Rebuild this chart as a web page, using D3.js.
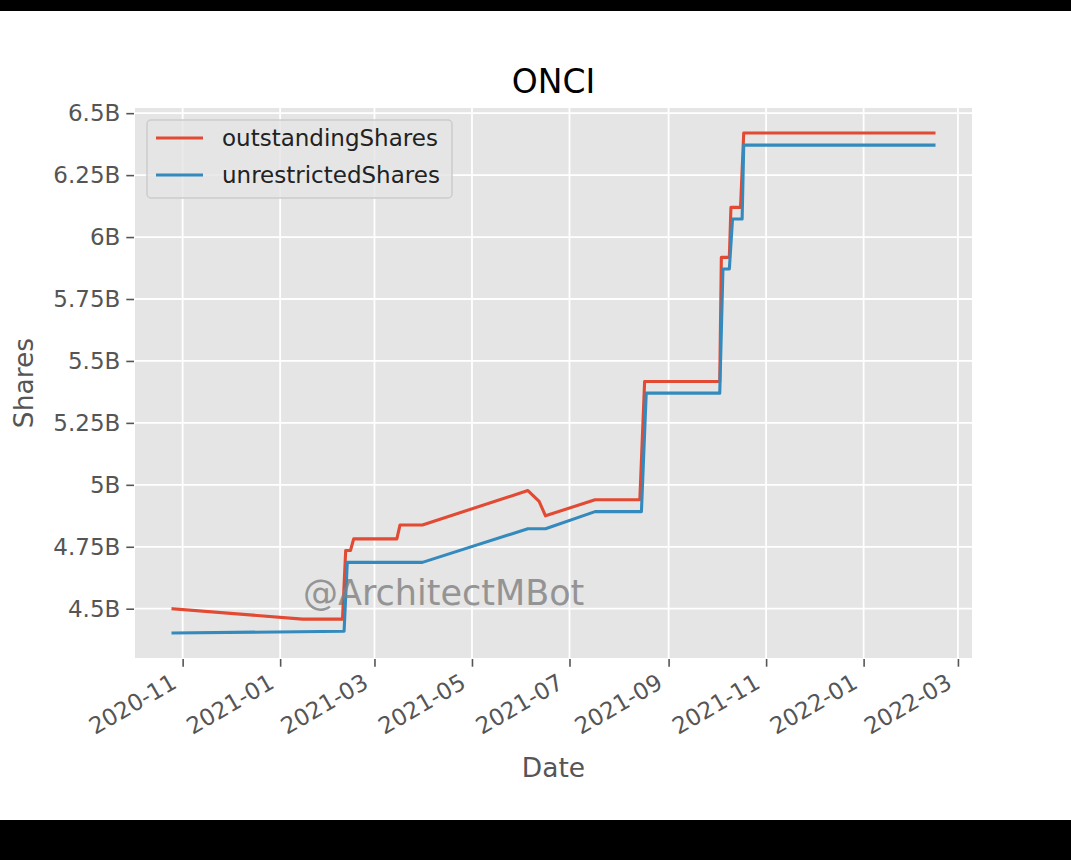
<!DOCTYPE html>
<html><head><meta charset="utf-8">
<script src="https://cdn.jsdelivr.net/npm/d3@7"></script>
<style>
body{margin:0;background:#fff}
svg{display:block}
text{font-family:"DejaVu Sans",sans-serif}
</style>
</head><body>
<svg id="c" width="1071" height="860"></svg>
<script>
const chartTitle = "ONCI";
const xLabel = "Date";
const yLabel = "Shares";
const watermark = "@ArchitectMBot";
const seriesNames = ["outstandingShares", "unrestrictedShares"];
const seriesColors = ["#E24A33", "#348ABD"];

// outstandingShares (billions)
const outDates = ["2020-10-26","2021-01-15","2021-02-09","2021-02-11","2021-02-14","2021-02-16",
  "2021-03-15","2021-03-17","2021-03-31","2021-06-05","2021-06-12","2021-06-16","2021-07-17",
  "2021-08-14","2021-08-17","2021-10-03","2021-10-04","2021-10-09","2021-10-10","2021-10-16",
  "2021-10-18","2022-02-14"];
const outValues = [4.500,4.458,4.458,4.735,4.735,4.782,
  4.782,4.838,4.838,4.977,4.933,4.875,4.940,
  4.940,5.417,5.417,5.918,5.918,6.120,6.120,
  6.420,6.420];

// unrestrictedShares (billions)
const unrDates = ["2020-10-26","2021-02-10","2021-02-12","2021-03-31","2021-06-05","2021-06-16",
  "2021-07-17","2021-08-15","2021-08-18","2021-10-03","2021-10-05","2021-10-09","2021-10-11",
  "2021-10-17","2021-10-18","2022-02-14"];
const unrValues = [4.402,4.409,4.687,4.687,4.823,4.823,
  4.892,4.892,5.370,5.370,5.871,5.871,6.073,
  6.073,6.371,6.371];

const xTickDates = ["2020-11-01","2021-01-01","2021-03-01","2021-05-01","2021-07-01",
  "2021-09-01","2021-11-01","2022-01-01","2022-03-01"];
const yTickValues = [4.5,4.75,5,5.25,5.5,5.75,6,6.25,6.5];

const parse = d3.utcParse("%Y-%m-%d");
const fmtX = d3.utcFormat("%Y-%m");
const series = [
  {name: seriesNames[0], color: seriesColors[0], pts: outDates.map((d,i)=>({d:parse(d), v:outValues[i]}))},
  {name: seriesNames[1], color: seriesColors[1], pts: unrDates.map((d,i)=>({d:parse(d), v:unrValues[i]}))}
];

const svg = d3.select("#c");
const W = 1071, H = 860;
svg.append("rect").attr("width",W).attr("height",H).attr("fill","#fff");
svg.append("rect").attr("x",0).attr("y",0).attr("width",W).attr("height",11).attr("fill","#000");
svg.append("rect").attr("x",0).attr("y",820).attr("width",W).attr("height",40).attr("fill","#000");

const L = 135, R = 972, T = 108, B = 658;
const allPts = series.flatMap(s=>s.pts);
const [d0,d1] = d3.extent(allPts, p=>p.d);
const dPad = (d1-d0)*0.05;
const [v0,v1] = d3.extent(allPts, p=>p.v);
const vPad = (v1-v0)*0.05;
const x = d3.scaleUtc().domain([new Date(+d0-dPad), new Date(+d1+dPad)]).range([L,R]);
const y = d3.scaleLinear().domain([v0-vPad, v1+vPad]).range([B,T]);

const g = svg.append("g");
g.append("rect").attr("x",L).attr("y",T).attr("width",R-L).attr("height",B-T).attr("fill","#E5E5E5");

const xt = xTickDates.map(parse);
// grid
g.selectAll(".gx").data(xt).join("line")
  .attr("x1",d=>x(d)).attr("x2",d=>x(d)).attr("y1",T).attr("y2",B)
  .attr("stroke","#fff").attr("stroke-width",1.8);
g.selectAll(".gy").data(yTickValues).join("line")
  .attr("y1",d=>y(d)).attr("y2",d=>y(d)).attr("x1",L).attr("x2",R)
  .attr("stroke","#fff").attr("stroke-width",1.8);

// axes
const xAxis = d3.axisBottom(x).tickValues(xt).tickFormat(fmtX).tickSizeOuter(0).tickSizeInner(7.7).tickPadding(6);
const xa = svg.append("g").attr("transform",`translate(0,${B+1})`).call(xAxis);
xa.select(".domain").remove();
xa.selectAll(".tick line").attr("stroke","#555").attr("stroke-width",1.6);
xa.selectAll(".tick text")
  .attr("fill","#555").style("font-size","23px").style("font-family","DejaVu Sans")
  .attr("text-anchor","end").attr("dy",null).attr("y",null)
  .attr("transform","translate(-5,28) rotate(-30)");

const yAxis = d3.axisLeft(y).tickValues(yTickValues).tickFormat(v=>`${v}B`).tickSizeOuter(0).tickSizeInner(7.7).tickPadding(6);
const ya = svg.append("g").attr("transform",`translate(${L-1},0)`).call(yAxis);
ya.select(".domain").remove();
ya.selectAll(".tick line").attr("stroke","#555").attr("stroke-width",1.6);
ya.selectAll(".tick text").attr("fill","#555").style("font-size","23px").style("font-family","DejaVu Sans");

// lines
const line = d3.line().x(p=>x(p.d)).y(p=>y(p.v));
series.forEach(s=>{
  g.append("path").attr("d",line(s.pts)).attr("fill","none")
    .attr("stroke",s.color).attr("stroke-width",3.1)
    .attr("stroke-linejoin","round").attr("stroke-linecap","square");
});

// watermark
svg.append("text").attr("x",303).attr("y",605).text(watermark)
  .attr("fill","#808080").attr("opacity",0.8).style("font-size","35px");

// legend
const lg = svg.append("g");
lg.append("rect").attr("x",147).attr("y",120).attr("width",305).attr("height",78)
  .attr("rx",4).attr("fill","#E5E5E5").attr("fill-opacity",0.8).attr("stroke","#cccccc").attr("stroke-width",1.5);
series.forEach((s,i)=>{
  const yy = 138 + i*37;
  lg.append("line").attr("x1",156).attr("x2",203).attr("y1",yy).attr("y2",yy)
    .attr("stroke",s.color).attr("stroke-width",3.1);
  lg.append("text").attr("x",222).attr("y",yy).attr("dy","0.36em").text(s.name)
    .attr("fill","#222").style("font-size","23px");
});

// titles
svg.append("text").attr("x",(L+R)/2).attr("y",93).attr("text-anchor","middle")
  .text(chartTitle).attr("fill","#000").style("font-size","33px");
svg.append("text").attr("x",(L+R)/2).attr("y",777).attr("text-anchor","middle")
  .text(xLabel).attr("fill","#555").style("font-size","26.5px");
svg.append("text").attr("transform",`translate(33,${(T+B)/2}) rotate(-90)`).attr("text-anchor","middle")
  .text(yLabel).attr("fill","#555").style("font-size","26.5px");
</script>
</body></html>
